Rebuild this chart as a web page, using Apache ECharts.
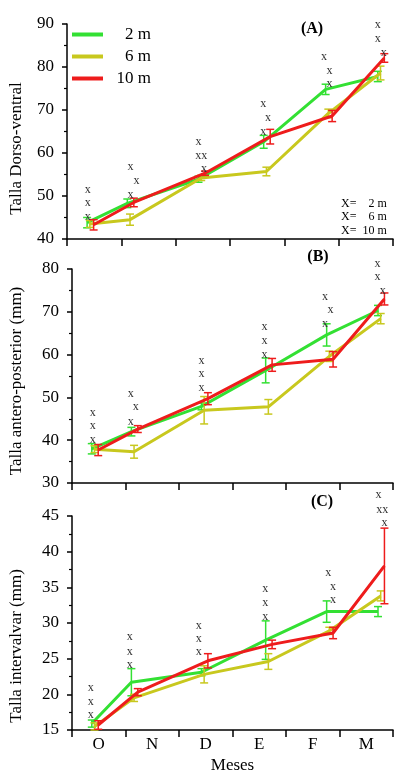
<!DOCTYPE html>
<html>
<head>
<meta charset="utf-8">
<script src="https://cdn.jsdelivr.net/npm/echarts@6/dist/echarts.min.js"></script>
<style>
  html, body { margin: 0; padding: 0; background: #fff; }
  #main { width: 401px; height: 775px; }
</style>
</head>
<body>
<div id="main"></div>
<script>
// meses de muestreo
const months = ['O', 'N', 'D', 'E', 'F', 'M']
// posición de cada muestreo dentro del eje de meses (0..6)
const samplePos = [0.42, 1.16, 2.47, 3.67, 4.81, 5.77]
const depthNames = ['    2 m', '    6 m', '  10 m']

// (A) Talla dorso-ventral
const dvMean2 = [43.8, 48.3, 53.9, 62.6, 74.8, 77.8]
const dvErr2 = [1.2, 1.0, 0.7, 1.5, 1.2, 1.2]
const dvMean6 = [43.5, 44.5, 54.2, 55.7, 69.2, 78.6]
const dvErr6 = [0.8, 1.3, 0.6, 1.0, 1.0, 1.6]
const dvMean10 = [43.3, 48.5, 55.3, 63.8, 68.6, 82.1]
const dvErr10 = [1.2, 1.0, 0.5, 1.7, 1.3, 1.0]
const dvMarks = [
  [0.38, 51.5, 'x'], [0.38, 48.4, 'x'], [0.38, 45.1, 'x'],
  [1.17, 56.7, 'x'], [1.28, 53.5, 'x'], [1.17, 50.3, 'x'],
  [2.42, 62.7, 'x'], [2.47, 59.4, 'xx'], [2.52, 56.3, 'x'],
  [3.61, 71.4, 'x'], [3.70, 68.2, 'x'], [3.61, 65.0, 'x'],
  [4.73, 82.4, 'x'], [4.83, 79.2, 'x'], [4.83, 76.1, 'x'],
  [5.72, 89.8, 'x'], [5.72, 86.5, 'x'], [5.83, 83.3, 'x']
]

// (B) Talla antero-posterior
const apMean2 = [38.0, 42.0, 47.9, 56.3, 64.6, 70.3]
const apErr2 = [1.2, 1.0, 0.8, 2.9, 2.6, 1.2]
const apMean6 = [37.9, 37.3, 47.0, 47.8, 59.6, 68.4]
const apErr6 = [0.8, 1.5, 3.2, 1.7, 1.2, 1.2]
const apMean10 = [37.7, 42.6, 49.7, 57.6, 58.9, 73.0]
const apErr10 = [1.3, 0.8, 1.4, 1.5, 1.8, 1.4]
const apMarks = [
  [0.39, 46.5, 'x'], [0.39, 43.4, 'x'], [0.39, 40.1, 'x'],
  [1.10, 50.9, 'x'], [1.19, 47.7, 'x'], [1.10, 44.4, 'x'],
  [2.42, 58.6, 'x'], [2.42, 55.4, 'x'], [2.42, 52.2, 'x'],
  [3.60, 66.4, 'x'], [3.60, 63.2, 'x'], [3.60, 59.9, 'x'],
  [4.73, 73.5, 'x'], [4.83, 70.4, 'x'], [4.73, 67.2, 'x'],
  [5.71, 81.3, 'x'], [5.71, 78.1, 'x'], [5.81, 74.9, 'x']
]

// (C) Talla intervalvar
const ivMean2 = [15.9, 21.7, 23.1, 27.6, 31.6, 31.6]
const ivErr2 = [0.5, 1.9, 0.5, 2.7, 1.5, 0.7]
const ivMean6 = [15.5, 19.5, 22.8, 24.6, 28.9, 33.8]
const ivErr6 = [0.5, 0.5, 1.2, 1.1, 0.5, 0.7]
const ivMean10 = [15.7, 20.3, 24.7, 27.0, 28.6, 38.0]
const ivErr10 = [0.6, 0.5, 1.0, 0.6, 0.8, 5.3]
const ivMarks = [
  [0.35, 20.9, 'x'], [0.35, 19.0, 'x'], [0.35, 17.1, 'x'],
  [1.08, 28.0, 'x'], [1.08, 26.0, 'x'], [1.08, 24.2, 'x'],
  [2.37, 29.6, 'x'], [2.37, 27.8, 'x'], [2.37, 25.9, 'x'],
  [3.61, 34.8, 'x'], [3.61, 32.8, 'x'], [3.61, 30.9, 'x'],
  [4.79, 37.0, 'x'], [4.88, 35.1, 'x'], [4.88, 33.2, 'x'],
  [5.73, 47.9, 'x'], [5.80, 45.9, 'xx'], [5.84, 44.1, 'x']
]

const serif = 'Liberation Serif'
const colors = ['#33e033', '#c8c81e', '#ee1c1c']
const dodge = [-0.05, 0, 0.07]

const panels = [
  { means: [dvMean2, dvMean6, dvMean10], errs: [dvErr2, dvErr6, dvErr10], marks: dvMarks,
    min: 40, max: 90, step: 10, name: 'Talla Dorso-ventral', top: 24, height: 215, nameGap: 42, namePad: 34, tag: '(A)', tagPos: [312, 29] },
  { means: [apMean2, apMean6, apMean10], errs: [apErr2, apErr6, apErr10], marks: apMarks,
    min: 30, max: 80, step: 10, name: 'Talla antero-posterior (mm)', top: 269, height: 214, nameGap: 47, namePad: 10, tag: '(B)', tagPos: [318, 257] },
  { means: [ivMean2, ivMean6, ivMean10], errs: [ivErr2, ivErr6, ivErr10], marks: ivMarks,
    min: 15, max: 45, step: 5, name: 'Talla intervalvar (mm)', top: 516, height: 215, nameGap: 47, namePad: 46, tag: '(C)', tagPos: [322, 502] }
]

// barra de error con sus topes
function errorBar(params, api) {
  const x = api.value(0)
  const top = api.coord([x, api.value(2)])
  const bot = api.coord([x, api.value(1)])
  const color = api.visual('color')
  const w = 4
  const st = { stroke: color, lineWidth: 1.5 }
  return {
    type: 'group',
    children: [
      { type: 'line', shape: { x1: top[0], y1: top[1], x2: bot[0], y2: bot[1] }, style: st },
      { type: 'line', shape: { x1: top[0] - w, y1: top[1], x2: top[0] + w, y2: top[1] }, style: st },
      { type: 'line', shape: { x1: bot[0] - w, y1: bot[1], x2: bot[0] + w, y2: bot[1] }, style: st }
    ]
  }
}

const grid = []
const xAxis = []
const yAxis = []
const series = []
const graphic = []

panels.forEach((p, i) => {
  const last = i === panels.length - 1
  grid.push({ left: 63, width: 330, top: p.top, height: p.height })
  xAxis.push({
    type: 'category', gridIndex: i, data: months, position: 'bottom',
    axisLine: { lineStyle: { color: '#000', width: 1.5 } },
    axisTick: { show: true, length: 7, inside: false, lineStyle: { color: '#000', width: 1.5 } },
    axisLabel: { show: last, color: '#000', fontFamily: serif, fontSize: 17, margin: 6 },
    name: last ? 'Meses' : '', nameLocation: 'middle', nameGap: 27,
    nameTextStyle: { color: '#000', fontFamily: serif, fontSize: 17 }
  })
  xAxis.push({ type: 'value', gridIndex: i, min: 0, max: 6, show: false })
  yAxis.push({
    type: 'value', gridIndex: i, min: p.min, max: p.max, interval: p.step,
    axisLine: { show: true, lineStyle: { color: '#000', width: 1.5 } },
    axisTick: { show: true, length: 5, lineStyle: { color: '#000', width: 1.5 } },
    minorTick: { show: true, splitNumber: 2, length: 3, lineStyle: { color: '#000', width: 1.2 } },
    splitLine: { show: false },
    axisLabel: { color: '#000', fontFamily: serif, fontSize: 17, margin: 13 },
    name: p.name, nameLocation: 'middle', nameGap: p.nameGap,
    nameTextStyle: { color: '#000', fontFamily: serif, fontSize: 17, padding: [0, p.namePad, 0, 0] }
  })

  p.means.forEach((m, k) => {
    const xs = samplePos.map((v) => v + dodge[k])
    series.push({
      type: 'line', name: depthNames[k], xAxisIndex: 2 * i + 1, yAxisIndex: i,
      data: m.map((v, j) => [xs[j], v]),
      symbol: 'none', lineStyle: { width: 3, color: colors[k] }, itemStyle: { color: colors[k] },
      z: 3 + k
    })
    series.push({
      type: 'custom', name: depthNames[k], xAxisIndex: 2 * i + 1, yAxisIndex: i,
      data: m.map((v, j) => [xs[j], v - p.errs[k][j], v + p.errs[k][j]]),
      encode: { x: 0, y: [1, 2] },
      renderItem: errorBar, itemStyle: { color: colors[k] }, z: 3 + k
    })
  })

  // marcas de significación
  series.push({
    type: 'custom', xAxisIndex: 2 * i + 1, yAxisIndex: i, clip: false,
    data: p.marks.map((d) => [d[0], d[1]]),
    encode: { x: 0, y: 1 },
    renderItem: (params, api) => {
      const pt = api.coord([api.value(0), api.value(1)])
      return {
        type: 'text', x: pt[0], y: pt[1],
        style: { text: p.marks[params.dataIndex][2], fill: '#333', font: '12px "Liberation Serif"', align: 'center', verticalAlign: 'middle' }
      }
    },
    z: 10
  })

  graphic.push({
    type: 'text', x: p.tagPos[0], y: p.tagPos[1],
    style: { text: p.tag, fill: '#000', font: 'bold 16px "Liberation Serif"', align: 'center', verticalAlign: 'middle' }
  })
})

graphic.push({
  type: 'text', x: 341, y: 197,
  style: { text: 'X=    2 m\nX=    6 m\nX=  10 m', fill: '#000', font: '12px "Liberation Serif"', lineHeight: 13.5, align: 'left', verticalAlign: 'top' }
})

const chart = echarts.init(document.getElementById('main'))
chart.setOption({
  animation: false,
  backgroundColor: '#fff',
  grid,
  xAxis,
  yAxis,
  legend: {
    data: depthNames, orient: 'vertical', left: 72, top: 26, padding: 0,
    icon: 'rect', itemWidth: 31, itemHeight: 4, itemGap: 5,
    textStyle: { color: '#000', fontFamily: serif, fontSize: 17 }
  },
  graphic,
  series
})
</script>
</body>
</html>
